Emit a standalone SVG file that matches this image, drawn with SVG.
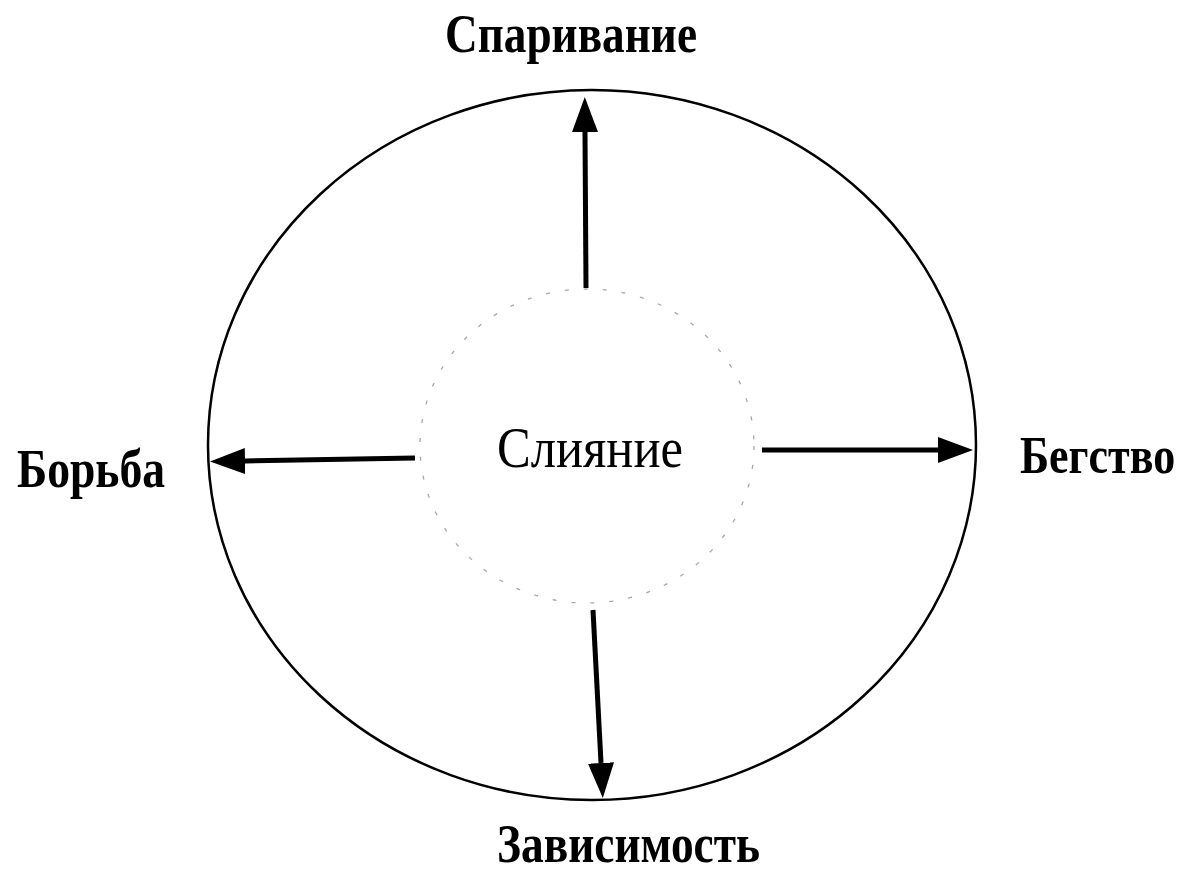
<svg xmlns="http://www.w3.org/2000/svg" width="1188" height="872" viewBox="0 0 1188 872">
<style>
  .lbl { font-family: "Liberation Serif", "Times New Roman", serif; font-size: 54px; font-weight: bold; fill: #000; }
  .center { font-family: "Liberation Serif", "Times New Roman", serif; font-size: 57px; fill: #000; }
  .conn { stroke: #000; stroke-width: 5; fill: none; marker-end: url(#head); }
  .outer { fill: none; stroke: #000; stroke-width: 2.5; }
  .inner { fill: none; stroke: #a8a8a8; stroke-width: 1.3; stroke-dasharray: 4 15; }
</style>
<defs>
  <marker id="head" markerUnits="userSpaceOnUse" markerWidth="36" markerHeight="28" refX="0" refY="13" orient="auto">
    <path d="M0,0 L35,13 L0,26 z" fill="#000"/>
  </marker>
</defs>
<rect width="1188" height="872" fill="#fff"/>
<g id="outer-circle">
  <ellipse class="outer" cx="592" cy="445" rx="384" ry="355"/>
</g>
<g id="node-merge">
  <ellipse class="inner" cx="587" cy="446" rx="167" ry="157"/>
  <text class="center" x="497" y="467" textLength="186" lengthAdjust="spacingAndGlyphs">Слияние</text>
</g>
<g id="connectors">
  <path class="conn" d="M586,288 L585,132"/>
  <path class="conn" d="M415,458 L245,461"/>
  <path class="conn" d="M762,450 L938,450"/>
  <path class="conn" d="M593,610 L601,763"/>
</g>
<g id="node-mating">
  <text class="lbl" x="445" y="52" textLength="252" lengthAdjust="spacingAndGlyphs">Спаривание</text>
</g>
<g id="node-fight">
  <text class="lbl" x="17" y="487" textLength="148" lengthAdjust="spacingAndGlyphs">Борьба</text>
</g>
<g id="node-flight">
  <text class="lbl" x="0" y="0" style="font-size:44px" transform="translate(1020,473) scale(1,1.2)">Бегство</text>
</g>
<g id="node-dependence">
  <text class="lbl" x="497" y="862" textLength="263" lengthAdjust="spacingAndGlyphs">Зависимость</text>
</g>
</svg>
